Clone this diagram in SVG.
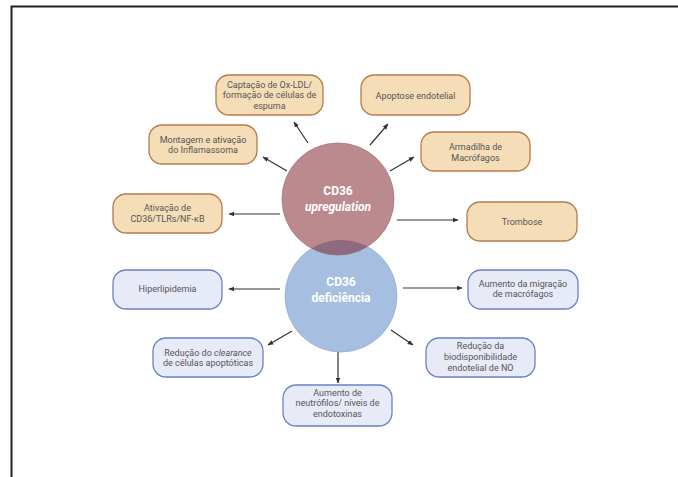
<svg xmlns="http://www.w3.org/2000/svg" width="678" height="477" viewBox="0 0 678 477">
<style>
.tan rect{fill:#f5ddb8;stroke:#b27c4c;stroke-width:1.3}
.blu rect{fill:#e7ebf8;stroke:#6d80c2;stroke-width:1.3}
.t{font-family:Roboto,"Liberation Sans",sans-serif;font-size:9px;fill:#555;text-anchor:middle}
.c{font-family:Roboto,"Liberation Sans",sans-serif;font-size:12px;font-weight:bold;fill:#fff;text-anchor:middle}
#conn line{stroke:#333;stroke-width:1.2;marker-end:url(#ah)}
</style>
<defs>
<marker id="ah" viewBox="0 0 10 10" refX="9" refY="5" markerWidth="6" markerHeight="6" orient="auto" markerUnits="userSpaceOnUse">
<path d="M0,1 L10,5 L0,9 Z" fill="#333"/>
</marker>
<clipPath id="clipRed"><circle cx="338" cy="199" r="56"/></clipPath>
</defs>
<rect width="678" height="477" fill="#fff"/>
<path d="M11.5,477 V6.5 H678" fill="none" stroke="#222" stroke-width="2"/>

<g id="conn">
<line x1="308" y1="143" x2="294" y2="122"/>
<line x1="287" y1="171" x2="263" y2="157"/>
<line x1="370" y1="145" x2="388" y2="124"/>
<line x1="390" y1="171" x2="414" y2="157"/>
<line x1="280" y1="214" x2="229" y2="214"/>
<line x1="397" y1="220" x2="458" y2="220"/>
<line x1="280" y1="289" x2="229" y2="289"/>
<line x1="403" y1="288" x2="462" y2="288"/>
<line x1="292" y1="331" x2="268" y2="345"/>
<line x1="338" y1="352" x2="338" y2="383"/>
<line x1="391" y1="330" x2="413" y2="345"/>
</g>

<g id="circles">
<circle cx="341" cy="296" r="56" fill="#a6bfe1" stroke="#94aed3" stroke-width="0.8"/>
<circle cx="338" cy="199" r="56" fill="#bb8a8e" stroke="#a87479" stroke-width="0.8"/>
<circle cx="341" cy="296" r="56" fill="#8d6a7e" clip-path="url(#clipRed)"/>
<text class="c" x="338" y="195">CD36</text>
<text class="c" x="338" y="211" font-style="italic">upregulation</text>
<text class="c" x="341" y="286">CD36</text>
<text class="c" x="341" y="302">deficiência</text>
</g>

<g id="n1" class="tan"><rect x="216" y="75" width="107" height="40" rx="13"/>
<text class="t" x="269.5" y="88">Captação de Ox-LDL/</text>
<text class="t" x="269.5" y="98">formação de células de</text>
<text class="t" x="269.5" y="109">espuma</text></g>
<g id="n2" class="tan"><rect x="149" y="125" width="108" height="39" rx="13"/>
<text class="t" x="203" y="143">Montagem e ativação</text>
<text class="t" x="203" y="153">do Inflamassoma</text></g>
<g id="n3" class="tan"><rect x="361" y="75" width="109" height="40" rx="13"/>
<text class="t" x="415.5" y="99">Apoptose endotelial</text></g>
<g id="n4" class="tan"><rect x="421" y="132" width="109" height="39" rx="13"/>
<text class="t" x="475.5" y="150">Armadilha de</text>
<text class="t" x="475.5" y="161">Macrófagos</text></g>
<g id="n5" class="tan"><rect x="113" y="194" width="109" height="39" rx="13"/>
<text class="t" x="167.5" y="211">Ativação de</text>
<text class="t" x="167.5" y="222">CD36/TLRs/NF-κB</text></g>
<g id="n6" class="tan"><rect x="467" y="202" width="110" height="39" rx="13"/>
<text class="t" x="522" y="225">Trombose</text></g>

<g id="n7" class="blu"><rect x="113" y="270" width="109" height="39" rx="13"/>
<text class="t" x="167.5" y="292">Hiperlipidemia</text></g>
<g id="n8" class="blu"><rect x="468" y="270" width="110" height="39" rx="13"/>
<text class="t" x="523" y="287">Aumento da migração</text>
<text class="t" x="523" y="297">de macrófagos</text></g>
<g id="n9" class="blu"><rect x="153" y="338" width="110" height="39" rx="13"/>
<text class="t" x="208" y="356">Redução do <tspan font-style="italic">clearance</tspan></text>
<text class="t" x="208" y="366">de células apoptóticas</text></g>
<g id="n10" class="blu"><rect x="283" y="385" width="109" height="41" rx="13"/>
<text class="t" x="337.5" y="396">Aumento de</text>
<text class="t" x="337.5" y="406">neutrófilos/ níveis de</text>
<text class="t" x="337.5" y="417">endotoxinas</text></g>
<g id="n11" class="blu"><rect x="426" y="338" width="109" height="39" rx="13"/>
<text class="t" x="480.5" y="349">Redução da</text>
<text class="t" x="480.5" y="360">biodisponibilidade</text>
<text class="t" x="480.5" y="371">endotelial de NO</text></g>
</svg>
